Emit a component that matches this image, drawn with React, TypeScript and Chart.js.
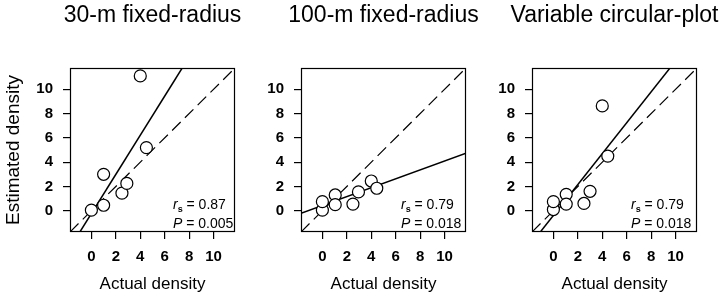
import React, { useEffect, useRef } from "react";
import { Chart, registerables } from "chart.js";

Chart.register(...registerables);

// ---- data ----
const panelTitles = ["30-m fixed-radius", "100-m fixed-radius", "Variable circular-plot"];

const actual30 = [0, 1, 1, 2.5, 2.9, 4.0, 4.5];
const estimated30 = [0.05, 0.45, 3.0, 1.45, 2.25, 11.1, 5.2];

const actual100 = [0, 0, 1.05, 1.05, 2.5, 2.95, 4.0, 4.45];
const estimated100 = [0.05, 0.75, 1.3, 0.5, 0.55, 1.55, 2.45, 1.85];

const actualVar = [0, 0, 1.05, 1.05, 2.5, 3.0, 4.0, 4.45];
const estimatedVar = [0.1, 0.75, 1.35, 0.55, 0.6, 1.6, 8.63, 4.5];

// fitted (solid) lines: endpoints read where they meet the plot box
const fitX30 = [-0.94, 7.43];
const fitY30 = [-1.75, 11.75];
const fitX100 = [-1.75, 11.75];
const fitY100 = [-0.21, 4.73];
const fitXVar = [-1.07, 9.54];
const fitYVar = [-1.75, 11.75];

// 1:1 (dashed) reference line
const oneToOneX = [-1.75, 11.75];
const oneToOneY = [-1.75, 11.75];

const rsValues = ["0.87", "0.79", "0.79"];
const pValues = ["0.005", "0.018", "0.018"];

const tickValues = [0, 2, 4, 6, 8, 10];
const axisMin = -1.75;
const axisMax = 11.75;

const xTitle = "Actual density";
const yTitle = "Estimated density";

// ---- layout (pixels) ----
const W = 720;
const H = 297;
const boxLefts = [70, 301, 532];
const boxWidth = 165;
const boxTop = 68;
const xAxisHeight = 65;
const yAxisWidth = 70;
const statOffsets = [103, 100, 99];

const FONT = "'Liberation Sans', Arial, Helvetica, sans-serif";

const toPts = (xs: number[], ys: number[]) => xs.map((x, i) => ({ x, y: ys[i] }));

const panels = [
  { actual: actual30, est: estimated30, fx: fitX30, fy: fitY30 },
  { actual: actual100, est: estimated100, fx: fitX100, fy: fitY100 },
  { actual: actualVar, est: estimatedVar, fx: fitXVar, fy: fitYVar },
];

function makeDecor(idx: number) {
  return {
    id: "decor" + idx,
    afterDraw(chart: any) {
      const { ctx, chartArea } = chart;
      const l = Math.round(chartArea.left) + 0.5;
      const t = Math.round(chartArea.top) + 0.5;
      const r = Math.round(chartArea.right) - 0.5;
      const b = Math.round(chartArea.bottom) - 0.5;
      ctx.save();
      ctx.strokeStyle = "#000";
      ctx.lineWidth = 1.2;
      ctx.strokeRect(l, t, r - l, b - t);

      // panel title
      ctx.fillStyle = "#000";
      ctx.font = `23px ${FONT}`;
      ctx.textAlign = "center";
      ctx.textBaseline = "middle";
      ctx.fillText(panelTitles[idx], (chartArea.left + chartArea.right) / 2, 16);

      // statistics
      const sx = chartArea.left + statOffsets[idx];
      ctx.textAlign = "left";
      ctx.textBaseline = "alphabetic";
      let x = sx;
      let y = 209;
      ctx.font = `italic 14px ${FONT}`;
      ctx.fillText("r", x, y);
      x += ctx.measureText("r").width;
      ctx.font = `bold 9px ${FONT}`;
      ctx.fillText("s", x, y + 3);
      x += ctx.measureText("s").width;
      ctx.font = `14px ${FONT}`;
      ctx.fillText(" = " + rsValues[idx], x, y);

      x = sx;
      y = 228;
      ctx.font = `italic 14px ${FONT}`;
      ctx.fillText("P", x, y);
      x += ctx.measureText("P").width;
      ctx.font = `14px ${FONT}`;
      ctx.fillText(" = " + pValues[idx], x, y);
      ctx.restore();
    },
  };
}

function makeConfig(idx: number): any {
  const p = panels[idx];
  const left = boxLefts[idx];
  const tickFont = { family: FONT, size: 15, weight: "bold" as const };
  return {
    type: "scatter",
    data: {
      datasets: [
        {
          type: "scatter",
          data: toPts(p.actual, p.est),
          pointRadius: 6,
          pointHoverRadius: 6,
          pointBackgroundColor: "#fff",
          pointBorderColor: "#000",
          pointBorderWidth: 1.2,
        },
        {
          type: "line",
          data: toPts(p.fx, p.fy),
          borderColor: "#000",
          borderWidth: 1.5,
          pointRadius: 0,
          fill: false,
        },
        {
          type: "line",
          data: toPts(oneToOneX, oneToOneY),
          borderColor: "#000",
          borderWidth: 1.2,
          borderDash: [12, 6],
          pointRadius: 0,
          fill: false,
        },
      ],
    },
    options: {
      responsive: false,
      animation: false,
      events: [],
      layout: {
        padding: {
          left: left - yAxisWidth,
          right: W - (left + boxWidth),
          top: boxTop,
          bottom: 0,
        },
      },
      plugins: {
        legend: { display: false },
        tooltip: { enabled: false },
        title: { display: false },
      },
      scales: {
        x: {
          type: "linear",
          min: axisMin,
          max: axisMax,
          afterBuildTicks: (s: any) => {
            s.ticks = tickValues.map((v) => ({ value: v }));
          },
          afterFit: (s: any) => {
            s.height = xAxisHeight;
          },
          grid: { drawOnChartArea: false, drawTicks: true, tickLength: 7, color: "#000", lineWidth: 1.2 },
          border: { display: false },
          ticks: { font: tickFont, color: "#000", padding: 9, autoSkip: false, maxRotation: 0 },
          title: {
            display: true,
            text: xTitle,
            font: { family: FONT, size: 17 },
            color: "#000",
            padding: { top: 0, bottom: 2 },
          },
        },
        y: {
          type: "linear",
          min: axisMin,
          max: axisMax,
          afterBuildTicks: (s: any) => {
            s.ticks = tickValues.map((v) => ({ value: v }));
          },
          afterFit: (s: any) => {
            s.width = yAxisWidth;
          },
          grid: { drawOnChartArea: false, drawTicks: true, tickLength: 7, color: "#000", lineWidth: 1.2 },
          border: { display: false },
          ticks: { font: tickFont, color: "#000", padding: 10, autoSkip: false },
          title: {
            display: idx === 0,
            text: yTitle,
            font: { family: FONT, size: 19 },
            color: "#000",
            padding: { top: 2, bottom: 0 },
          },
        },
      },
    },
    plugins: [makeDecor(idx)],
  };
}

function Panel({ idx }: { idx: number }) {
  const ref = useRef<HTMLCanvasElement | null>(null);
  useEffect(() => {
    if (!ref.current) return;
    const chart = new Chart(ref.current, makeConfig(idx));
    return () => chart.destroy();
  }, [idx]);
  return (
    <canvas
      ref={ref}
      width={W}
      height={H}
      style={{ position: "absolute", left: 0, top: 0, width: W, height: H }}
    />
  );
}

export default function App() {
  return (
    <div style={{ position: "fixed", left: 0, top: 0, width: W, height: H, background: "#fff" }}>
      {panels.map((_, i) => (
        <Panel key={i} idx={i} />
      ))}
    </div>
  );
}
